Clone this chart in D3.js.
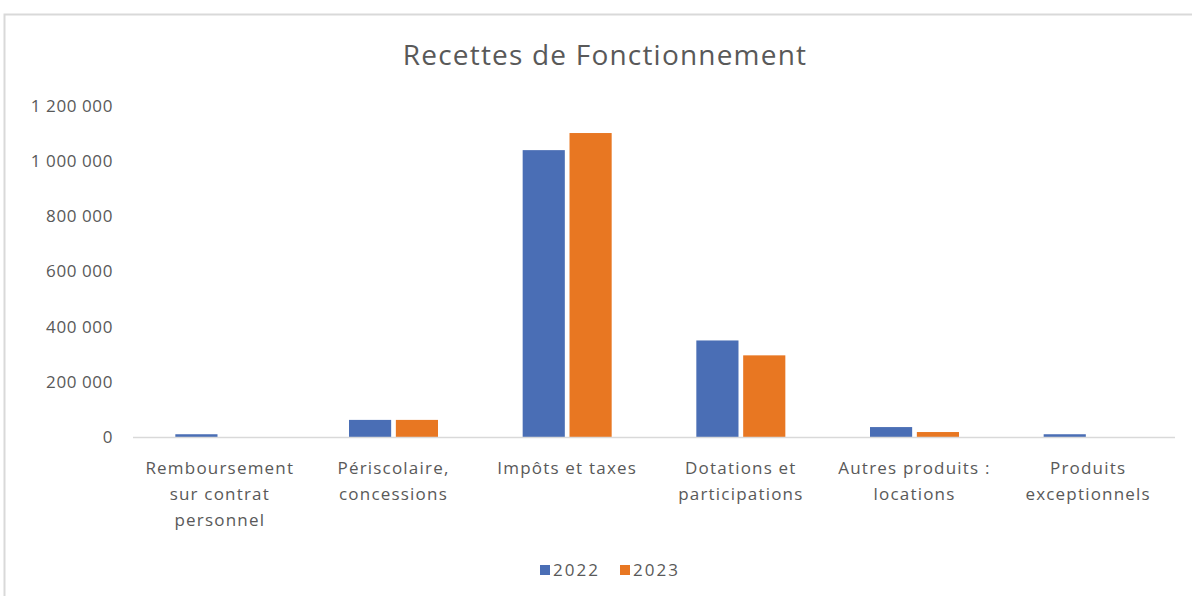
<!DOCTYPE html>
<html>
<head>
<meta charset="utf-8">
<script src="https://cdn.jsdelivr.net/npm/d3@7"></script>
<style>
  body { margin: 0; background: #fff; }
  text { font-family: "Open Sans", "Noto Sans", sans-serif; fill: #595959; }
</style>
</head>
<body>
<div class="chart"></div>
<script>
//Data.
var categories = [
  ["Remboursement", "sur contrat", "personnel"],
  ["Périscolaire,", "concessions"],
  ["Impôts et taxes"],
  ["Dotations et", "participations"],
  ["Autres produits :", "locations"],
  ["Produits", "exceptionnels"]
];
var years = ["2022", "2023"];
var values2022 = [10000, 62000, 1040000, 350000, 36000, 10000];
var values2023 = [0, 62000, 1102000, 296000, 18000, 0];
var yTicks = [0, 200000, 400000, 600000, 800000, 1000000, 1200000];
var colors = ["#4A6EB5", "#E87722"];

//SVG area and chart margins.
var svgWidth = 1192;
var svgHeight = 596;
var margin = { top: 106, right: 17, bottom: 159, left: 133 };
var chartWidth = svgWidth - margin.left - margin.right;
var chartHeight = svgHeight - margin.top - margin.bottom;

var svg = d3.select(".chart")
  .append("svg")
  .attr("width", svgWidth)
  .attr("height", svgHeight);

//Outer frame of the chart.
svg.append("rect")
  .attr("x", 4.5).attr("y", 14.5)
  .attr("width", svgWidth + 10).attr("height", svgHeight + 10)
  .attr("fill", "none").attr("stroke", "#d9d9d9").attr("stroke-width", 2);

var chart = svg.append("g")
  .attr("transform", "translate(" + margin.left + "," + margin.top + ")");

var locale = d3.formatLocale({ decimal: ",", thousands: "\u00a0", grouping: [3], currency: ["", " €"] });
var fmt = locale.format(",d");

var xScale = d3.scaleBand()
  .domain(d3.range(categories.length))
  .range([0, chartWidth]);

var xInner = d3.scaleBand()
  .domain(years)
  .range([0, 89])
  .paddingInner(0.1);

var yScale = d3.scaleLinear()
  .domain([0, 1200000])
  .range([chartHeight, 0]);

//Y axis labels only, no line.
var leftAxis = d3.axisLeft(yScale).tickValues(yTicks).tickFormat(fmt).tickSize(0).tickPadding(20);
var yAxis = chart.append("g").call(leftAxis);
yAxis.select(".domain").remove();
yAxis.selectAll("text")
  .style("font-size", "17px")
  .style("letter-spacing", "0.6px")
  .attr("fill", "#595959");

//Bars.
var series = [values2022, values2023];
series.forEach(function(vals, s) {
  chart.selectAll(".bar" + s)
    .data(vals)
    .enter()
    .append("rect")
    .attr("x", function(d, i) { return xScale(i) + xScale.bandwidth() / 2 - 44.5 + xInner(years[s]); })
    .attr("y", function(d) { return yScale(d); })
    .attr("width", xInner.bandwidth())
    .attr("height", function(d) { return chartHeight - yScale(d); })
    .attr("fill", colors[s]);
});

//X axis line.
chart.append("line")
  .attr("x1", 0).attr("x2", chartWidth)
  .attr("y1", chartHeight + 0.5).attr("y2", chartHeight + 0.5)
  .attr("stroke", "#d9d9d9").attr("stroke-width", 1.5);

//Category labels.
categories.forEach(function(lines, i) {
  var t = chart.append("text")
    .attr("text-anchor", "middle")
    .attr("x", xScale(i) + xScale.bandwidth() / 2)
    .attr("y", chartHeight + 37)
    .style("font-size", "17px")
    .style("letter-spacing", "1.2px");
  lines.forEach(function(l, j) {
    t.append("tspan")
      .attr("x", xScale(i) + xScale.bandwidth() / 2)
      .attr("dy", j === 0 ? 0 : 26)
      .text(l);
  });
});

//Title.
svg.append("text")
  .attr("x", 605).attr("y", 65)
  .attr("text-anchor", "middle")
  .style("font-size", "28px")
  .style("letter-spacing", "1.2px")
  .text("Recettes de Fonctionnement");

//Legend.
var legend = svg.append("g").attr("transform", "translate(540,565)");
years.forEach(function(y, i) {
  var g = legend.append("g").attr("transform", "translate(" + (i * 80) + ",0)");
  g.append("rect").attr("width", 10).attr("height", 10).attr("fill", colors[i]);
  g.append("text").attr("x", 13).attr("y", 11)
    .style("font-size", "17px")
    .style("letter-spacing", "2px")
    .text(y);
});
</script>
</body>
</html>
